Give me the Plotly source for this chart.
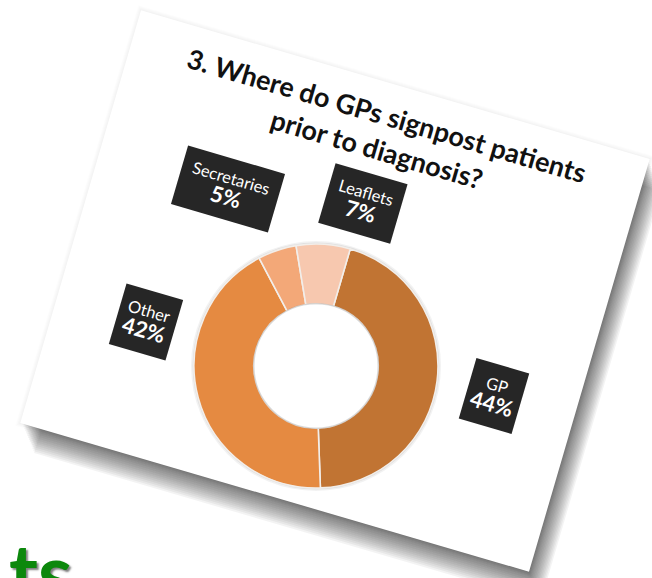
import math
import plotly.graph_objects as go

# Survey answers
labels = ["GP", "Other", "Secretaries", "Leaflets"]
values = [44, 42, 5, 7]
colors = ["#C17433", "#E58A41", "#F3A878", "#F7C8AF"]

title_text = "3. Where do GPs signpost patients<br>prior to diagnosis?"

W, H = 652, 578
ANGLE = 16.3  # tilt of the whole slide, degrees clockwise

# slide card geometry (pixel space, y downwards)
card_center = (335.0, 291.0)
card_size = (530.0, 430.0)

# donut placement
donut_center = (316.0, 366.0)
donut_radius = 122.0
hole_ratio = 0.51

# callout boxes: centre and box size for each category
callouts = {
    "GP": dict(pos=(494, 396), w=50, h=58),
    "Other": dict(pos=(146, 322), w=54, h=58),
    "Secretaries": dict(pos=(228, 189), w=96, h=56),
    "Leaflets": dict(pos=(363, 203), w=70, h=57),
}


def rect_path(cx, cy, w, h, ang, dx=0.0, dy=0.0):
    a = math.radians(ang)
    ca, sa = math.cos(a), math.sin(a)
    pts = []
    for sx, sy in [(-1, -1), (1, -1), (1, 1), (-1, 1)]:
        x, y = sx * w / 2, sy * h / 2
        pts.append((cx + x * ca - y * sa + dx, cy + x * sa + y * ca + dy))
    return "M " + " L ".join(f"{x:.1f},{y:.1f}" for x, y in pts) + " Z"


shapes = []
# soft drop shadow built from stacked translucent copies
for k in range(1, 15):
    shapes.append(dict(
        type="path", xref="x", yref="y", layer="below",
        path=rect_path(card_center[0], card_center[1], card_size[0] - 2, card_size[1] - 2,
                       ANGLE, dx=0.9 * k, dy=2.2 * k),
        fillcolor="rgba(0,0,0,0.047)", line=dict(width=0),
    ))
# faint glow on the upper edge
for k in range(1, 5):
    shapes.append(dict(
        type="path", xref="x", yref="y", layer="below",
        path=rect_path(card_center[0], card_center[1], card_size[0] + 2 * k, card_size[1] + 2 * k,
                       ANGLE),
        fillcolor="rgba(0,0,0,0.012)", line=dict(width=0),
    ))
# the white slide
shapes.append(dict(
    type="path", xref="x", yref="y", layer="below",
    path=rect_path(card_center[0], card_center[1], card_size[0], card_size[1], ANGLE),
    fillcolor="white", line=dict(width=0),
))
# faint halo round the ring
cx, cy = donut_center
for r, a in [(donut_radius + 3, 0.05), (donut_radius + 1.5, 0.07)]:
    shapes.append(dict(
        type="circle", xref="x", yref="y", layer="below",
        x0=cx - r, x1=cx + r, y0=cy - r, y1=cy + r,
        fillcolor=f"rgba(0,0,0,{a})", line=dict(width=0),
    ))
# clean white centre with a soft rim
rh = donut_radius * hole_ratio
shapes.append(dict(
    type="circle", xref="x", yref="y", layer="above",
    x0=cx - rh, x1=cx + rh, y0=cy - rh, y1=cy + rh,
    fillcolor="white", line=dict(width=1.6, color="rgba(0,0,0,0.13)"),
))

fig = go.Figure()
fig.add_trace(go.Scatter(x=[0, W], y=[0, H], mode="markers",
                         marker=dict(opacity=0), hoverinfo="skip", showlegend=False))
fig.add_trace(go.Pie(
    labels=labels, values=values, sort=False, direction="clockwise",
    rotation=ANGLE, hole=hole_ratio, textinfo="none", hoverinfo="label+percent",
    marker=dict(colors=colors, line=dict(color="#F2EEEA", width=1.6)),
    domain=dict(x=[(cx - donut_radius) / W, (cx + donut_radius) / W],
                y=[(H - cy - donut_radius) / H, (H - cy + donut_radius) / H]),
    showlegend=False,
))

annotations = [dict(
    x=382, y=132, xref="x", yref="y", text=f"<b>{title_text}</b>", showarrow=False,
    textangle=ANGLE, font=dict(family="Lato", size=27, color="#111111"),
)]

for lab, val in zip(labels, values):
    c = callouts[lab]
    annotations.append(dict(
        x=c["pos"][0], y=c["pos"][1], xref="x", yref="y", showarrow=False,
        text=f"{lab}<br><span style='font-size:22px'><b>{val}%</b></span>",
        textangle=ANGLE, bgcolor="#262626", width=c["w"], height=c["h"],
        borderpad=2, align="center",
        font=dict(family="Lato", size=16.5, color="white"),
    ))

# trailing letters of the slide heading below the card
annotations.append(dict(
    x=74, y=522, xref="x", yref="y", xanchor="right", yanchor="top",
    text="<b>ts</b>", showarrow=False,
    font=dict(family="Lato", size=78, color="#0C880C",
              shadow="2px 2px 2px rgba(40,40,40,0.6)"),
))

fig.update_layout(
    width=W, height=H, margin=dict(l=0, r=0, t=0, b=0),
    paper_bgcolor="white", plot_bgcolor="white",
    xaxis=dict(range=[0, W], visible=False, fixedrange=True),
    yaxis=dict(range=[H, 0], visible=False, fixedrange=True),
    shapes=shapes, annotations=annotations,
)

fig.write_html("out.html")
